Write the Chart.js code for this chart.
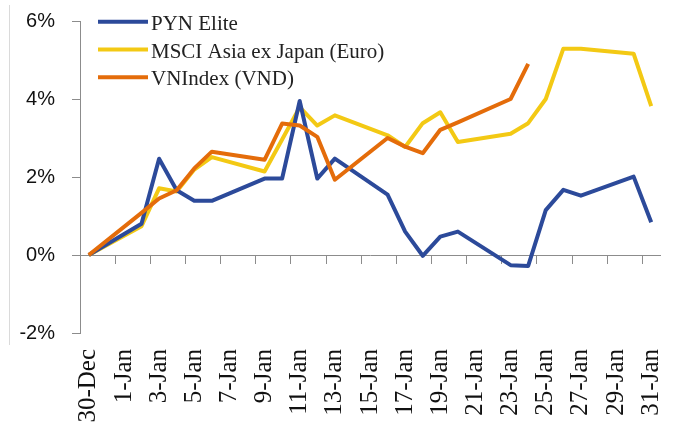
<!DOCTYPE html>
<html>
<head>
<meta charset="utf-8">
<script src="https://cdn.jsdelivr.net/npm/chart.js@4/dist/chart.umd.min.js"></script>
<style>
  html, body { margin: 0; padding: 0; background: #fff; }
  #wrap { width: 674px; height: 425px; }
</style>
</head>
<body>
<div id="wrap"><canvas id="perf"></canvas></div>
<script>
// days from 30-Dec to 31-Jan, one category per day
const days = ['30-Dec', '31-Dec', '1-Jan', '2-Jan', '3-Jan', '4-Jan', '5-Jan', '6-Jan', '7-Jan', '8-Jan',
    '9-Jan', '10-Jan', '11-Jan', '12-Jan', '13-Jan', '14-Jan', '15-Jan', '16-Jan', '17-Jan', '18-Jan',
    '19-Jan', '20-Jan', '21-Jan', '22-Jan', '23-Jan', '24-Jan', '25-Jan', '26-Jan', '27-Jan', '28-Jan',
    '29-Jan', '30-Jan', '31-Jan'];

const seriesNames = ['PYN Elite', 'MSCI Asia ex Japan (Euro)', 'VNIndex (VND)'];

// cumulative return in %, null = no quote that day
const pynElite = [0, null, null, 0.80, 2.47, 1.66, 1.39, 1.39, null, null, 1.96, 1.96, 3.95, 1.96, 2.47,
    null, null, 1.55, 0.60, -0.02, 0.47, 0.60, null, null, -0.26, -0.28, 1.15, 1.67, 1.52, null, null, 2.01, 0.84];
const msciAsia = [0, null, null, 0.74, 1.71, 1.63, 2.19, 2.51, null, null, 2.14, 2.96, 3.79, 3.32, 3.58,
    null, null, 3.07, 2.77, 3.38, 3.66, 2.90, null, null, 3.11, 3.38, 4.00, 5.29, 5.29, null, null, 5.16, 3.82];
const vnIndex = [0, null, null, 1.08, 1.45, 1.66, 2.22, 2.65, null, null, 2.44, 3.37, 3.32, 3.03, 1.93,
    null, null, 3.00, 2.78, 2.61, 3.21, 3.40, null, null, 4.00, 4.90, null, null, null, null, null, null, null];

const yTicks = [-2, 0, 2, 4, 6];

const COLORS = {
    blue: '#2C4A9A',
    yellow: '#F3C914',
    orange: '#E46C0A',
    axis: '#8C8C8C'
};

// legend sits inside the plot, top left, drawn by hand
const insideLegend = {
    id: 'insideLegend',
    afterDraw(chart) {
        const ctx = chart.ctx;
        const rows = [21.7, 49.5, 77.3];
        ctx.save();
        ctx.font = '21px "Liberation Serif", serif';
        ctx.textBaseline = 'alphabetic';
        chart.data.datasets.forEach((ds, i) => {
            ctx.strokeStyle = ds.borderColor;
            ctx.lineWidth = 4;
            ctx.beginPath();
            ctx.moveTo(98, rows[i]);
            ctx.lineTo(148, rows[i]);
            ctx.stroke();
            ctx.fillStyle = '#222';
            ctx.fillText(ds.label, 151, rows[i] + 8);
        });
        ctx.restore();
    },
    beforeDraw(chart) {
        // faint frame line on the left
        const ctx = chart.ctx;
        ctx.save();
        ctx.strokeStyle = '#DADADA';
        ctx.lineWidth = 1;
        ctx.beginPath();
        ctx.moveTo(9.5, 5);
        ctx.lineTo(9.5, 345);
        ctx.stroke();
        ctx.restore();
    }
};

function lineSet(label, data, color, order) {
    return {
        label: label,
        data: data,
        borderColor: color,
        backgroundColor: color,
        borderWidth: 4,
        pointRadius: 0,
        tension: 0,
        spanGaps: true,
        borderJoinStyle: 'round',
        order: order
    };
}

// no extra room for tick labels, the layout padding does it
function noPad(s) {
    s.paddingLeft = 0;
    s.paddingRight = 0;
    s.paddingTop = 0;
    s.paddingBottom = 0;
}

new Chart(document.getElementById('perf'), {
    type: 'line',
    data: {
        labels: days,
        datasets: [
            lineSet(seriesNames[0], pynElite, COLORS.blue, 1),
            lineSet(seriesNames[1], msciAsia, COLORS.yellow, 2),
            lineSet(seriesNames[2], vnIndex, COLORS.orange, 0)
        ]
    },
    options: {
        responsive: true,
        maintainAspectRatio: false,
        animation: false,
        layout: {
            padding: {top: 21, right: 14, bottom: 0, left: 0}
        },
        plugins: {
            legend: {display: false},
            tooltip: {enabled: false}
        },
        scales: {
            x: {
                type: 'category',
                position: 'bottom',
                offset: true,
                grid: {display: false, drawTicks: false},
                border: {display: false},
                ticks: {
                    autoSkip: false,
                    minRotation: 90,
                    maxRotation: 90,
                    padding: 16,
                    color: '#111',
                    font: {family: '"Liberation Serif", serif', size: 25},
                    callback: function (val, i) {
                        return i % 2 === 0 ? this.getLabelForValue(val) : '';
                    }
                },
                afterFit: (s) => { s.height = 92; noPad(s); }
            },
            // axis line through 0% with tick marks every two days
            x0: {
                type: 'category',
                position: {y: 0},
                offset: true,
                grid: {
                    offset: true,
                    drawOnChartArea: false,
                    drawTicks: true,
                    tickLength: 8,
                    tickWidth: 1,
                    tickColor: (c) => (c.index > 0 && c.index % 2 === 0) ? COLORS.axis : 'rgba(0,0,0,0)'
                },
                border: {display: true, color: COLORS.axis, width: 1},
                ticks: {display: false},
                afterFit: (s) => { s.height = 0; noPad(s); }
            },
            y: {
                min: yTicks[0],
                max: yTicks[yTicks.length - 1],
                afterBuildTicks: (s) => { s.ticks = yTicks.map(v => ({value: v})); },
                grid: {
                    drawOnChartArea: false,
                    drawTicks: true,
                    tickLength: 8,
                    tickColor: COLORS.axis
                },
                border: {display: true, color: COLORS.axis, width: 1},
                ticks: {
                    padding: 17,
                    color: '#111',
                    font: {family: '"Liberation Sans", Arial, sans-serif', size: 20},
                    callback: (v) => v + '%'
                },
                afterFit: (s) => { s.width = 80; noPad(s); }
            }
        }
    },
    plugins: [insideLegend]
});
</script>
</body>
</html>
